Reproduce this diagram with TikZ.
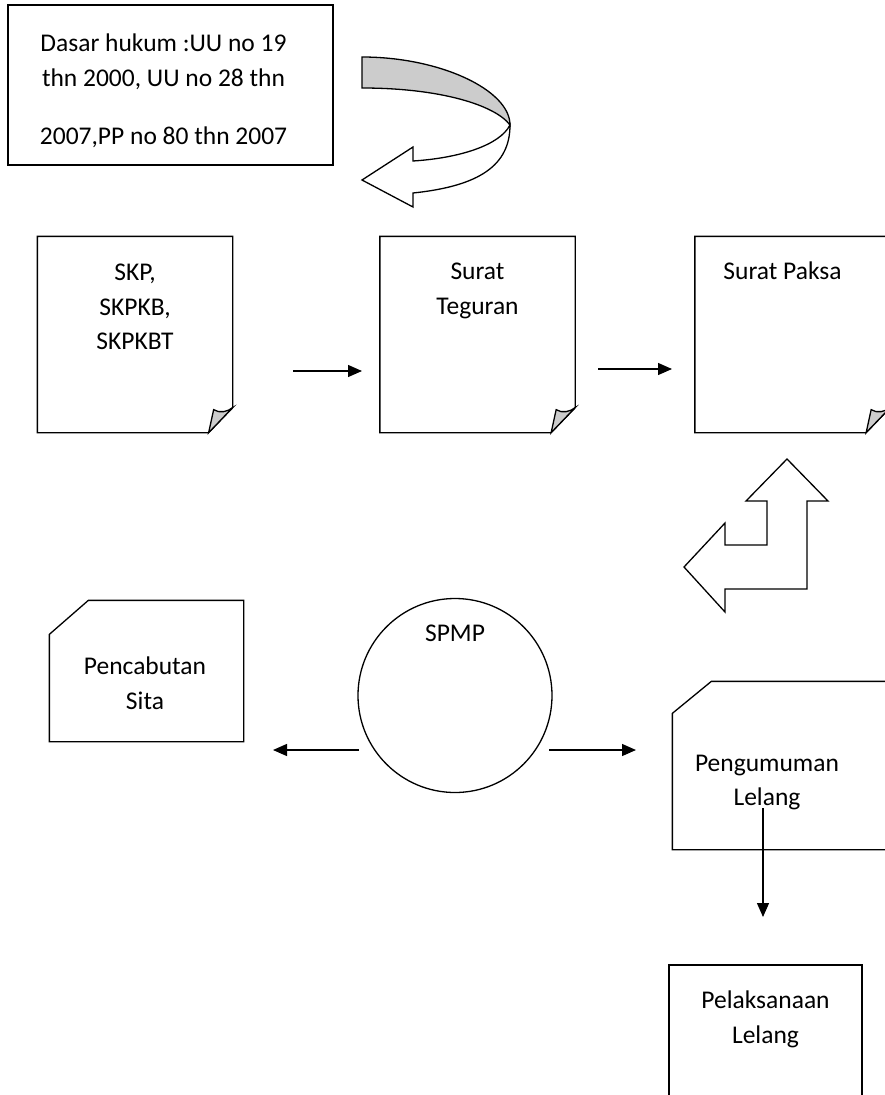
\documentclass[tikz,border=0pt]{standalone}
\usepackage{fontspec}
\setmainfont{Carlito}
\usetikzlibrary{arrows.meta,positioning}

\newcommand{\lblfont}{\fontsize{25.5}{34.5}\selectfont}

% page with a folded bottom right corner
\newcommand{\foldpage}[1]{%
  \draw (#1.south west) -- (#1.north west) -- (#1.north east) -- ([yshift=25pt]#1.south east) -- ([xshift=-24pt]#1.south east) -- cycle;
  \draw [fill=gray!40] ([xshift=-24pt]#1.south east) -- ([shift={(-19pt,23pt)}]#1.south east) .. controls ([shift={(-13pt,19pt)}]#1.south east) and ([shift={(-5pt,21pt)}]#1.south east) .. ([yshift=25pt]#1.south east) -- cycle;}

% box with a cut top left corner
\newcommand{\snippage}[3]{%
  \draw (#1.south west) -- ([yshift=-#3]#1.north west) -- ([xshift=#2]#1.north west) -- (#1.north east) -- (#1.south east) -- cycle;}

\begin{document}
\begin{tikzpicture}[x=1pt, y=-1pt, line width=1.3pt, >={Triangle[length=14pt,width=12pt]},
    page/.style={minimum width=194pt, minimum height=195pt, inner sep=0pt},
    lbl/.style={align=center, inner sep=0pt, font=\lblfont, execute at begin node=\strut}]
    \useasboundingbox (0,0) rectangle (885,1095);

    % legal basis
    \node (dasar) [draw, minimum width=325pt, minimum height=160pt, inner sep=0pt] at (170.5,85) {};
    \node (dasart) [lbl, below=29pt of dasar.north, xshift=-7pt] {Dasar hukum :UU no 19\\ thn 2000, UU no 28 thn\\[24pt] 2007,PP no 80 thn 2007};

    % curved arrow
    \draw [fill=gray!40] (362,57) .. controls (440,57) and (510,90) .. (510,125) .. controls (495,105) and (440,88) .. (362,88) -- cycle;
    \draw [fill=white] (510,125) .. controls (500,145) and (460,158) .. (413,161) -- (413,147) -- (362,180) -- (413,207) -- (413,193) .. controls (480,186) and (510,165) .. (510,125) -- cycle;

    % first row
    \node (skp) [page] at (135,334.5) {};
    \node (teguran) [page] at (477.5,334.5) {};
    \node (paksa) [page] at (792.5,334.5) {};
    \foldpage{skp}
    \foldpage{teguran}
    \foldpage{paksa}
    \node (skpt) [lbl, below=27pt of skp.north] {SKP,\\ SKPKB,\\ SKPKBT};
    \node (tegurant) [lbl, below=26pt of teguran.north] {Surat\\ Teguran};
    \node (paksat) [lbl, below=18pt of paksa.north, xshift=-10pt] {Surat Paksa};

    \coordinate (a1) at (293,371);
    \coordinate (b1) at (362,371);
    \coordinate (a2) at (598,369);
    \coordinate (b2) at (672,369);
    \draw [->] (a1) -- (b1);
    \draw [->] (a2) -- (b2);

    % bent arrow up and left
    \draw (787,459) -- (828,501) -- (807,501) -- (807,589) -- (725,589) -- (725,612) -- (684,567) -- (725,523) -- (725,545) -- (767,545) -- (767,501) -- (746,501) -- cycle;

    % second row
    \node (cabut) [minimum width=193pt, minimum height=140pt, inner sep=0pt] at (146.5,671) {};
    \snippage{cabut}{39pt}{34pt}
    \node (cabutt) [lbl, below=56pt of cabut.north, xshift=-1.5pt] {Pencabutan\\ Sita};

    \node (spmp) [draw, circle, minimum size=194pt, inner sep=0pt] at (455,695.5) {};
    \node (spmpt) [lbl, below=19pt of spmp.north] {SPMP};

    \node (umum) [minimum width=217pt, minimum height=167pt, inner sep=0pt] at (781.5,765.5) {};
    \snippage{umum}{39pt}{32pt}
    \node (umumt) [lbl, below=73pt of umum.north, xshift=-14.5pt] {Pengumuman\\ Lelang};

    \coordinate (a3) at (359,750);
    \coordinate (b3) at (273,750);
    \coordinate (a4) at (549,750);
    \coordinate (b4) at (636,750);
    \draw [->] (a3) -- (b3);
    \draw [->] (a4) -- (b4);

    % auction
    \node (laksana) [draw, minimum width=193pt, minimum height=145pt, inner sep=0pt] at (765.5,1037.5) {};
    \node (laksanat) [lbl, below=26pt of laksana.north] {Pelaksanaan\\ Lelang};

    \coordinate (a5) at (763,808);
    \coordinate (b5) at (763,917);
    \draw [->] (a5) -- (b5);
\end{tikzpicture}
\end{document}
